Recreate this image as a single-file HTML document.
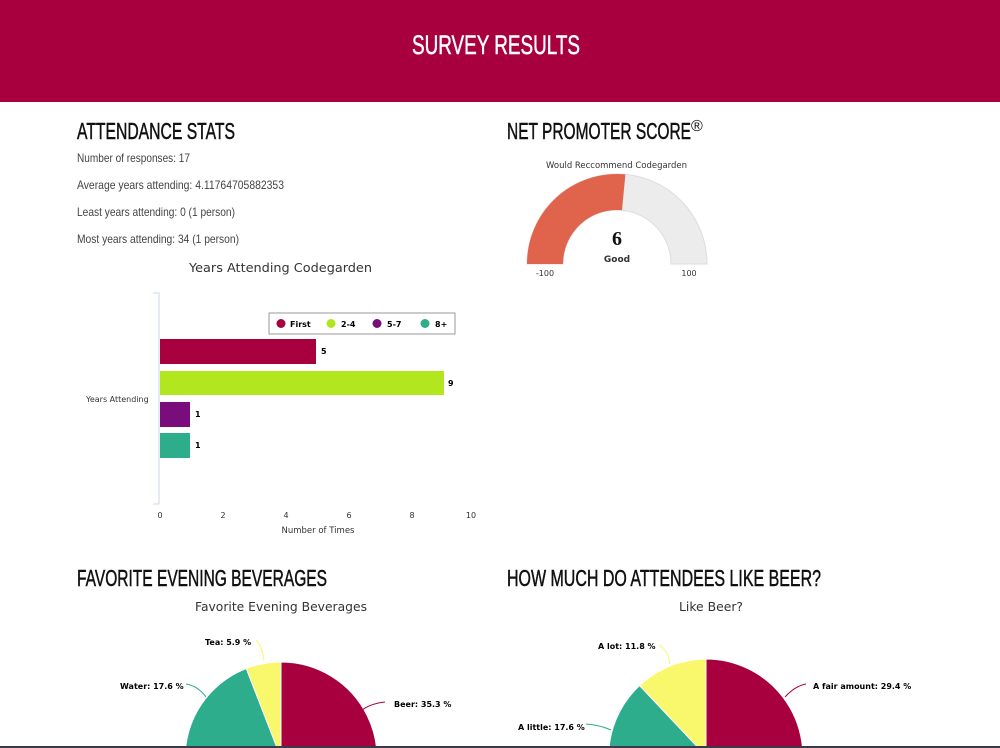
<!DOCTYPE html>
<html><head><meta charset="utf-8"><style>
html,body{margin:0;padding:0;background:#fff;width:1000px;height:748px;overflow:hidden}
svg{display:block}
.h{font-family:"Liberation Sans",sans-serif;fill:#111}
.b{font-family:"Liberation Sans",sans-serif;fill:#444;font-size:12px}
.c{font-family:"DejaVu Sans",sans-serif;fill:#333}
.l{font-family:"DejaVu Sans",sans-serif;font-weight:bold;fill:#000;font-size:8px}
</style></head><body>
<svg width="1000" height="748" viewBox="0 0 1000 748" style="overflow:hidden">
<rect x="0" y="0" width="1000" height="102" fill="#a8003f"/>
<text x="412" y="54" class="h" style="fill:#fff;font-size:27px" stroke="#fff" stroke-width="0.5" textLength="168" lengthAdjust="spacingAndGlyphs">SURVEY RESULTS</text>

<g stroke="#111" stroke-width="0.5">
<text x="77" y="139" class="h" font-size="23" textLength="158" lengthAdjust="spacingAndGlyphs">ATTENDANCE STATS</text>
<text x="507" y="139" class="h" font-size="23" textLength="184" lengthAdjust="spacingAndGlyphs">NET PROMOTER SCORE</text>
<text x="77" y="586" class="h" font-size="23" textLength="250" lengthAdjust="spacingAndGlyphs">FAVORITE EVENING BEVERAGES</text>
<text x="507" y="586" class="h" font-size="23" textLength="314" lengthAdjust="spacingAndGlyphs">HOW MUCH DO ATTENDEES LIKE BEER?</text>
</g>
<text x="77" y="162" class="b" textLength="113" lengthAdjust="spacingAndGlyphs">Number of responses: 17</text>
<text x="77" y="189" class="b" textLength="207" lengthAdjust="spacingAndGlyphs">Average years attending: 4.11764705882353</text>
<text x="77" y="216" class="b" textLength="158" lengthAdjust="spacingAndGlyphs">Least years attending: 0 (1 person)</text>
<text x="77" y="243" class="b" textLength="162" lengthAdjust="spacingAndGlyphs">Most years attending: 34 (1 person)</text>

<text x="189" y="272" class="c" font-size="12" textLength="183" lengthAdjust="spacingAndGlyphs">Years Attending Codegarden</text>
<path d="M153 293H159V504H153" fill="none" stroke="#ccd6eb"/>
<rect x="160" y="339" width="156" height="25" fill="#a8003f"/>
<rect x="160" y="371" width="284" height="24" fill="#b2e61e"/>
<rect x="160" y="402" width="30" height="25" fill="#790d7c"/>
<rect x="160" y="433" width="30" height="25" fill="#2ead8c"/>
<g class="l" font-size="8"><text x="321" y="354">5</text><text x="448" y="386">9</text><text x="195" y="417">1</text><text x="195" y="448">1</text></g>
<text x="86" y="402" class="c" font-size="8" fill="#666">Years Attending</text>
<g class="c" font-size="8" fill="#666" text-anchor="middle"><text x="160" y="518">0</text><text x="223" y="518">2</text><text x="286" y="518">4</text><text x="349" y="518">6</text><text x="412" y="518">8</text><text x="471" y="518">10</text></g>
<text x="318" y="533" class="c" font-size="8.5" fill="#666" text-anchor="middle">Number of Times</text>
<rect x="269" y="313" width="186" height="21" fill="#fff" stroke="#999"/>
<g class="l"><circle cx="281" cy="323.5" r="4.5" fill="#a8003f"/><text x="290" y="327">First</text>
<circle cx="331" cy="323.5" r="4.5" fill="#b2e61e"/><text x="341" y="327">2-4</text>
<circle cx="377" cy="323.5" r="4.5" fill="#790d7c"/><text x="387" y="327">5-7</text>
<circle cx="425" cy="323.5" r="4.5" fill="#2ead8c"/><text x="435" y="327">8+</text></g>

<text x="691" y="131" class="h" font-size="16">®</text>
<text x="546" y="168" class="c" font-size="8.5" fill="#555" textLength="141" lengthAdjust="spacingAndGlyphs">Would Reccommend Codegarden</text>
<path d="M527 264A90 90 0 0 1 707 264H671A54 54 0 0 0 563 264Z" fill="#ececec" stroke="#ddd"/>
<path d="M527 264A90 90 0 0 1 625.4 174.4L622 210.2A54 54 0 0 0 563 264Z" fill="#e0644c"/>
<text x="617" y="245" font-family="Liberation Serif,serif" font-size="20" font-weight="bold" text-anchor="middle" fill="#111">6</text>
<text x="617" y="262" class="c" font-size="9" font-weight="bold" fill="#bbb" text-anchor="middle">Good</text>
<text x="545" y="276" class="c" font-size="8" fill="#444" text-anchor="middle">-100</text>
<text x="689" y="276" class="c" font-size="8" fill="#444" text-anchor="middle">100</text>

<text x="195" y="611" class="c" font-size="12" textLength="172" lengthAdjust="spacingAndGlyphs">Favorite Evening Beverages</text>
<g stroke="#fff" stroke-width="1">
<path d="M281 758L356.6 817.2A96 96 0 1 1 246.3 668.5Z" fill="#2ead8c"/>
<path d="M281 758V662A96 96 0 0 1 356.6 817.2Z" fill="#a8003f"/>
<path d="M281 758L246.3 668.5A96 96 0 0 1 281 662Z" fill="#f9f76b"/>
</g>
<path d="M360 712Q368 704 385 702" stroke="#a8003f" fill="none"/>
<path d="M206 697Q198 686 186 684" stroke="#2ead8c" fill="none"/>
<path d="M264 660Q262 646 256 640" stroke="#f9f76b" fill="none"/>
<g class="l"><text x="394" y="707">Beer: 35.3 %</text><text x="120" y="689">Water: 17.6 %</text><text x="205" y="645">Tea: 5.9 %</text></g>

<text x="679" y="611" class="c" font-size="12" textLength="64" lengthAdjust="spacingAndGlyphs">Like Beer?</text>
<g stroke="#fff" stroke-width="1">
<path d="M706 756L799 783A97 97 0 1 1 639.6 685.5Z" fill="#2ead8c"/>
<path d="M706 756V659A97 97 0 0 1 799 783Z" fill="#a8003f"/>
<path d="M706 756L639.6 685.5A97 97 0 0 1 706 659Z" fill="#f9f76b"/>
</g>
<path d="M785 697Q795 686 806 684" stroke="#a8003f" fill="none"/>
<path d="M611 730Q600 725 586 724" stroke="#2ead8c" fill="none"/>
<path d="M670 664Q668 650 659 645" stroke="#f9f76b" fill="none"/>
<g class="l"><text x="813" y="689">A fair amount: 29.4 %</text><text x="518" y="730">A little: 17.6 %</text><text x="598" y="649">A lot: 11.8 %</text></g>

<rect x="0" y="746" width="1000" height="2" fill="#3a3a4a"/>
</svg>
</body></html>
